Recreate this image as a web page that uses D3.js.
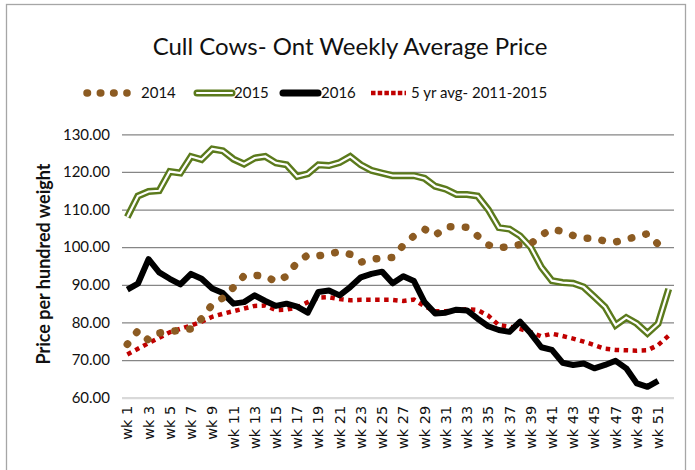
<!DOCTYPE html>
<html>
<head>
<meta charset="utf-8">
<script src="https://cdn.jsdelivr.net/npm/d3@7"></script>
<style>
  body { margin: 0; background: #fff; }
  #vis svg { display: block; }
</style>
</head>
<body>
<div id="vis"></div>
<script>
(function run(){

  // categories
  var weeks = ["wk 1","wk 2","wk 3","wk 4","wk 5","wk 6","wk 7","wk 8","wk 9","wk 10",
    "wk 11","wk 12","wk 13","wk 14","wk 15","wk 16","wk 17","wk 18","wk 19","wk 20",
    "wk 21","wk 22","wk 23","wk 24","wk 25","wk 26","wk 27","wk 28","wk 29","wk 30",
    "wk 31","wk 32","wk 33","wk 34","wk 35","wk 36","wk 37","wk 38","wk 39","wk 40",
    "wk 41","wk 42","wk 43","wk 44","wk 45","wk 46","wk 47","wk 48","wk 49","wk 50",
    "wk 51","wk 52"];

  // series values ($ per cwt)
  var price2014 = [74.2, 77.8, 75.3, 77.2, 77.6, 77.9, 78.3, 81.0, 84.8, 86.5,
    89.3, 92.4, 92.5, 92.4, 90.8, 92.3, 96.0, 97.9, 97.7, 98.2,
    98.8, 98.1, 96.0, 96.8, 97.1, 97.3, 100.5, 103.0, 104.8, 103.1,
    105.4, 105.4, 105.3, 103.0, 100.6, 99.8, 100.2, 100.7, 100.9, 103.2,
    104.8, 104.2, 103.1, 102.4, 102.4, 101.6, 101.4, 102.1, 102.8, 103.6,
    100.8];

  var price2015 = [108.0, 113.6, 114.8, 115.0, 120.1, 119.7, 124.1, 123.3, 126.1, 125.6,
    123.4, 122.1, 123.7, 124.1, 122.4, 121.9, 118.8, 119.5, 121.9, 121.7,
    122.5, 124.1, 121.9, 120.4, 119.7, 119.0, 119.0, 119.0, 118.3, 116.2,
    115.4, 114.0, 114.0, 113.6, 110.0, 105.2, 104.8, 103.0, 100.0, 94.7,
    91.1, 90.6, 90.4, 89.4, 86.8, 84.1, 79.3, 81.3, 79.7, 77.1,
    79.7, 88.9];

  var price2016 = [88.7, 90.3, 96.8, 93.3, 91.6, 90.1, 92.9, 91.6, 89.0, 87.8,
    85.0, 85.4, 87.2, 85.7, 84.4, 85.0, 84.2, 82.6, 88.1, 88.5,
    87.2, 89.4, 92.0, 92.9, 93.5, 90.4, 92.3, 91.0, 85.4, 82.4,
    82.6, 83.4, 83.2, 81.0, 79.0, 78.0, 77.5, 80.2, 77.1, 73.4,
    72.7, 69.3, 68.7, 69.1, 67.8, 68.7, 69.8, 67.8, 63.8, 62.9,
    64.5];

  var avg5yr = [71.5, 73.0, 74.5, 75.9, 77.4, 78.3, 79.2, 80.2, 81.5, 82.3,
    83.0, 83.7, 84.4, 84.5, 83.3, 83.4, 84.0, 85.4, 86.6, 86.7,
    86.2, 85.9, 86.0, 86.0, 86.0, 86.0, 85.7, 86.1, 84.3, 83.0,
    83.0, 83.3, 83.5, 83.3, 81.8, 79.3, 78.9, 78.3, 77.4, 76.3,
    77.0, 76.4, 75.7, 74.9, 74.0, 73.0, 72.7, 72.6, 72.5, 72.6,
    74.0, 76.5];

  // tick labels
  var yTicks = [60, 70, 80, 90, 100, 110, 120, 130];
  var xTicks = weeks.filter(function(d, i){ return i % 2 == 0; });

  var seriesNames = ["2014", "2015", "2016", "5 yr avg- 2011-2015"];

  var W = 695, H = 470;

  var margin = {
    top: 134.3,
    right: 21,
    bottom: 72.3,
    left: 122
  }

  var width = W - margin.left - margin.right;
  var height = H - margin.top - margin.bottom;

  var svg = d3.select("#vis")
    .append("svg")
      .attr("width", W)
      .attr("height", H);

  // chart border
  svg.append("rect")
    .attr("x", 6.5)
    .attr("y", 4.5)
    .attr("width", 679)
    .attr("height", 480)
    .attr("fill", "none")
    .attr("stroke", "#a6a6a6")
    .attr("stroke-width", 1.3);

  var g = svg.append("g")
    .attr("transform", "translate(" + margin.left + "," + margin.top + ")");

  var x = d3.scaleBand()
    .domain(weeks)
    .range([0, width]);

  var y = d3.scaleLinear()
    .domain([60, 130])
    .range([height, 0]);

  var xc = function(d, i){ return x(weeks[i]) + x.bandwidth() / 2; };

  // y axis + gridlines
  var yAxis = d3.axisLeft(y)
    .tickValues(yTicks)
    .tickSize(-width)
    .tickPadding(12)
    .tickFormat(d3.format(".2f"));

  var yg = g.append("g")
    .attr("class", "y axis")
    .call(yAxis);

  yg.select(".domain").remove();
  yg.selectAll(".tick line")
    .attr("stroke", function(d){ return d == 60 ? "#d9d9d9" : "#868686"; })
    .attr("stroke-width", function(d){ return d == 60 ? 2.2 : 1.2; });
  yg.selectAll(".tick text")
    .style("font-family", "Lato, 'Open Sans', sans-serif")
    .style("font-size", "15px")
    .attr("fill", "#111");

  // x axis labels
  var xAxis = d3.axisBottom(x)
    .tickValues(xTicks)
    .tickSize(0);

  var xg = g.append("g")
    .attr("class", "x axis")
    .attr("transform", "translate(0," + height + ")")
    .call(xAxis);

  xg.select(".domain").remove();
  xg.selectAll("text")
    .style("text-anchor", "end")
    .style("font-family", "'DejaVu Sans', sans-serif")
    .style("font-size", "14.5px")
    .attr("fill", "#111")
    .attr("y", 0)
    .attr("x", -8)
    .attr("dy", ".35em")
    .attr("transform", "rotate(-90)");

  var line = d3.line()
    .x(xc)
    .y(function(d){ return y(d); });

  // 5 yr avg - red square dots
  g.append("path")
    .datum(avg5yr)
    .attr("d", line)
    .attr("fill", "none")
    .attr("stroke", "#c00000")
    .attr("stroke-width", 4.5)
    .attr("stroke-dasharray", "4.5 4.5");

  // 2016 - thick black
  g.append("path")
    .datum(price2016)
    .attr("d", line)
    .attr("fill", "none")
    .attr("stroke", "#000")
    .attr("stroke-width", 6)
    .attr("stroke-linejoin", "round");

  // 2015 - double olive line
  g.append("path")
    .datum(price2015)
    .attr("d", line)
    .attr("fill", "none")
    .attr("stroke", "#5b7a1c")
    .attr("stroke-width", 7);
  g.append("path")
    .datum(price2015)
    .attr("d", line)
    .attr("fill", "none")
    .attr("stroke", "#fff")
    .attr("stroke-width", 2.2);

  // 2014 - round brown dots
  g.append("path")
    .datum(price2014)
    .attr("d", line)
    .attr("fill", "none")
    .attr("stroke", "#8c5b22")
    .attr("stroke-width", 7.5)
    .attr("stroke-linecap", "round")
    .attr("stroke-dasharray", "0.5 14.5");

  // title
  svg.append("text")
    .attr("x", 350)
    .attr("y", 55)
    .attr("text-anchor", "middle")
    .style("font-family", "Lato, 'Open Sans', sans-serif")
    .style("font-size", "24px")
    .attr("fill", "#111")
    .text("Cull Cows- Ont Weekly Average Price");

  // y axis title
  svg.append("text")
    .attr("transform", "translate(50,264) rotate(-90)")
    .attr("text-anchor", "middle")
    .style("font-family", "Lato, 'Open Sans', sans-serif")
    .style("font-size", "18px")
    .style("font-weight", "bold")
    .attr("fill", "#111")
    .text("Price per hundred weight");

  // legend
  var ly = 93;
  var legend = svg.append("g").attr("class", "legend");
  var lf = function(sel){
    sel.style("font-family", "Lato, 'Open Sans', sans-serif")
      .style("font-size", "15px")
      .attr("fill", "#111")
      .attr("dy", ".35em");
  };

  legend.append("line")
    .attr("x1", 87).attr("x2", 127).attr("y1", ly).attr("y2", ly)
    .attr("stroke", "#8c5b22").attr("stroke-width", 7.5)
    .attr("stroke-linecap", "round").attr("stroke-dasharray", "0.5 12.8");
  legend.append("text").attr("x", 141).attr("y", ly).call(lf).text(seriesNames[0]);

  legend.append("line")
    .attr("x1", 197).attr("x2", 232).attr("y1", ly).attr("y2", ly)
    .attr("stroke", "#5b7a1c").attr("stroke-width", 7).attr("stroke-linecap", "round");
  legend.append("line")
    .attr("x1", 197).attr("x2", 232).attr("y1", ly).attr("y2", ly)
    .attr("stroke", "#fff").attr("stroke-width", 2.2).attr("stroke-linecap", "round");
  legend.append("text").attr("x", 234).attr("y", ly).call(lf).text(seriesNames[1]);

  legend.append("line")
    .attr("x1", 283).attr("x2", 318).attr("y1", ly).attr("y2", ly)
    .attr("stroke", "#000").attr("stroke-width", 7).attr("stroke-linecap", "round");
  legend.append("text").attr("x", 321).attr("y", ly).call(lf).text(seriesNames[2]);

  legend.append("line")
    .attr("x1", 371).attr("x2", 406).attr("y1", ly).attr("y2", ly)
    .attr("stroke", "#c00000").attr("stroke-width", 4.5).attr("stroke-dasharray", "4.5 2.2");
  legend.append("text").attr("x", 411).attr("y", ly).call(lf).text(seriesNames[3]);

})();
</script>
</body>
</html>
